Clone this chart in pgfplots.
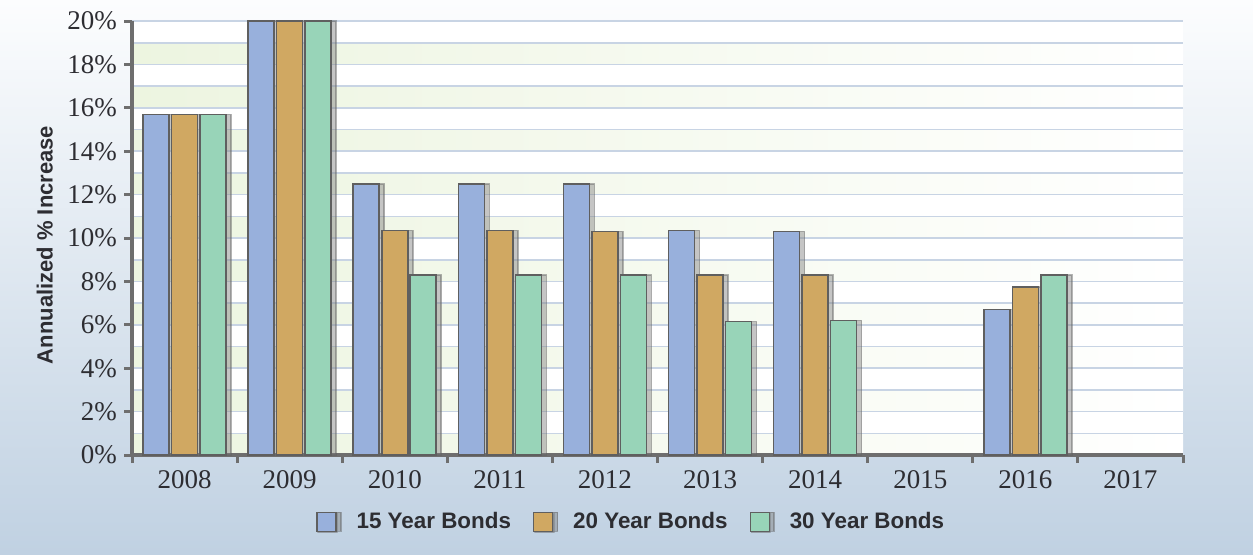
\documentclass[border=0pt]{standalone}
\usepackage{fontspec}
\setmainfont{Liberation Serif}
\newfontfamily\sansf{Liberation Sans}
\usepackage{pgfplots}
\pgfplotsset{compat=1.18}
\usetikzlibrary{shadows}
\definecolor{cblue}{RGB}{152,176,220}
\definecolor{ctan}{RGB}{208,168,98}
\definecolor{cgreen}{RGB}{152,212,184}
\definecolor{cedge}{RGB}{95,95,95}
\definecolor{axgray}{RGB}{110,110,110}
\definecolor{gridc}{RGB}{200,212,228}
\definecolor{bandg}{RGB}{214,232,186}
\definecolor{bgtop}{RGB}{252,253,254}
\definecolor{bgbot}{RGB}{192,209,226}
\definecolor{txt}{RGB}{45,45,50}
\begin{document}
\begin{tikzpicture}
\shade[top color=bgtop, bottom color=bgbot] (0,0) rectangle (626.5pt,277pt);
\begin{axis}[
  at={(66pt,49.5pt)}, anchor=south west,
  scale only axis, width=525.5pt, height=217pt,
  xmin=-0.5, xmax=9.5, ymin=0, ymax=20,
  ybar=1.25pt, bar width=13pt,
  axis lines*=left,
  axis line style={draw=axgray, line width=2pt},
  axis background/.style={fill=white, path picture={
     \foreach \i in {0,2,...,18}{
       \shade[left color=bandg!45!white, middle color=bandg, right color=white]
         ([yshift=\i*10.85pt]path picture bounding box.south west) rectangle
         ([yshift=\i*10.85pt+10.85pt]path picture bounding box.south east);
     }}},
  xtick={-0.5,0.5,...,9.5},
  x tick label as interval,
  xticklabels={2008,2009,2010,2011,2012,2013,2014,2015,2016,2017},
  ytick={0,2,...,20},
  minor y tick num=1,
  ymajorgrids, yminorgrids,
  major grid style={draw=gridc, line width=0.8pt},
  minor grid style={draw=gridc, line width=0.8pt},
  minor tick length=0pt,
  tick align=outside,
  major tick length=4pt,
  tick style={draw=axgray, line width=1.5pt},
  yticklabel={\pgfmathprintnumber{\tick}\%},
  /pgf/number format/assume math mode=true,
  tick label style={font=\fontsize{13.5}{15}\selectfont, text=txt},
  ylabel={\sansf\bfseries Annualized \% Increase},
  ylabel style={at={(axis description cs:-0.083,0.484)}, anchor=center, font=\fontsize{11}{13}\selectfont, text=txt},
  legend columns=3,
  legend style={draw=none, fill=none, font=\sansf\bfseries\fontsize{11.2}{13}\selectfont, text=txt,
    at={(axis description cs:0.476,-0.154)}, anchor=center,
    /tikz/every odd column/.append style={column sep=8pt},
    /tikz/every even column/.append style={column sep=9pt}},
  legend image code/.code={\draw[#1, line width=0.6pt, drop shadow={shadow xshift=0.6pt, shadow yshift=-0.6pt, opacity=0.3}] (0pt,-4.75pt) rectangle (9.5pt,4.75pt);},
  every axis plot/.append style={draw=cedge, line width=0.8pt},
  clip=false,
]
\addplot[fill=cblue, drop shadow={shadow xshift=2.5pt, shadow yshift=0pt, opacity=0.45}] coordinates {(0,15.7) (1,20) (2,12.5) (3,12.5) (4,12.5) (5,10.35) (6,10.3) (8,6.7)};
\addplot[fill=ctan, drop shadow={shadow xshift=2.5pt, shadow yshift=0pt, opacity=0.45}] coordinates {(0,15.7) (1,20) (2,10.35) (3,10.35) (4,10.3) (5,8.3) (6,8.3) (8,7.75)};
\addplot[fill=cgreen, drop shadow={shadow xshift=2.5pt, shadow yshift=0pt, opacity=0.45}] coordinates {(0,15.7) (1,20) (2,8.3) (3,8.3) (4,8.3) (5,6.15) (6,6.2) (8,8.3)};
\legend{15 Year Bonds, 20 Year Bonds, 30 Year Bonds}
\end{axis}
\pgfresetboundingbox
\path (0,0) rectangle (626.5pt,277pt);
\end{tikzpicture}
\end{document}
